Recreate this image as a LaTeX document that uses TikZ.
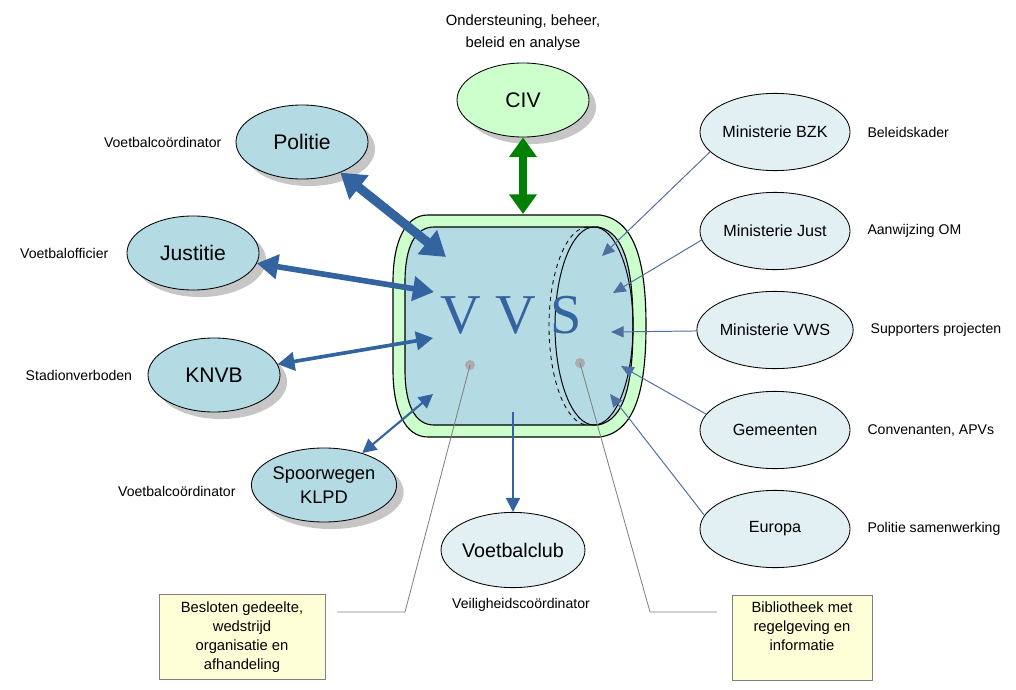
\documentclass[tikz,border=0pt]{standalone}
\usepackage{fontspec}
\setmainfont{Liberation Sans}
\newfontfamily\vvsfont{Liberation Serif}
\usetikzlibrary{arrows.meta, shapes.geometric, shadows, positioning}

\definecolor{bolblauw}{RGB}{180,218,228}
\definecolor{bolgroen}{RGB}{204,255,204}
\definecolor{bolbleek}{RGB}{226,240,244}
\definecolor{pijlblauw}{RGB}{52,100,160}
\definecolor{lijnblauw}{RGB}{80,110,160}
\definecolor{pijlgroen}{RGB}{0,128,0}
\definecolor{briefgeel}{RGB}{255,255,215}

\begin{document}
\begin{tikzpicture}[x=0.025cm, y=-0.025cm,
    bol/.style={ellipse, draw, line width=0.6pt, fill=bolblauw, inner sep=0pt,
        minimum width=3.3cm, minimum height=1.85cm,
        drop shadow={shadow xshift=5pt, shadow yshift=-5pt, fill=gray!45, opacity=1},
        font=\fontsize{15}{17}\selectfont},
    bleekbol/.style={ellipse, draw, line width=0.6pt, fill=bolbleek, inner sep=0pt,
        minimum width=3.75cm, minimum height=1.93cm, font=\fontsize{11.5}{14}\selectfont},
    lbl/.style={font=\fontsize{10}{12}\selectfont, inner sep=0pt},
    brief/.style={draw=gray, fill=briefgeel, minimum width=4.15cm, minimum height=2.12cm,
        align=center, font=\fontsize{10.5}{13.5}\selectfont},
    dubbel/.style n args={3}{draw=pijlblauw, line width=#1,
        >={Triangle[length=#2, width=#3]}, <->},
    inpijl/.style={draw=lijnblauw, line width=0.7pt, -{Triangle[length=9pt, width=8pt]}},
    callout/.style={draw=gray, line width=0.6pt},
    dot/.style={circle, fill=gray!65, minimum size=0.25cm, inner sep=0pt}]

\useasboundingbox (0,0) rectangle (1016,689);

% centrale VVS
\draw[line width=0.8pt, fill=bolgroen] (428,215) -- (600,215)
    .. controls (635,220) and (646,262) .. (646,326)
    .. controls (646,390) and (635,432) .. (600,437) -- (428,437)
    .. controls (405,437) and (393,410) .. (393,370) -- (393,282)
    .. controls (393,242) and (405,215) .. (428,215) -- cycle;
\draw[line width=0.8pt, fill=bolblauw] (434,227) -- (598,227)
    .. controls (625,232) and (633,270) .. (633,326)
    .. controls (633,382) and (625,420) .. (598,425) -- (434,425)
    .. controls (415,425) and (405,405) .. (405,370) -- (405,282)
    .. controls (405,247) and (415,227) .. (434,227) -- cycle;
\draw[line width=0.7pt] (594,326) ellipse [x radius=39, y radius=99];
\draw[line width=0.6pt, dashed] (588,227) arc [start angle=270, end angle=90, x radius=39, y radius=99];
\node[anchor=base, text=pijlblauw, inner sep=0pt, font=\vvsfont\fontsize{40}{40}\selectfont] (vvs) at (511,333) {V V S};

\coordinate (vPolitie) at (446,257);
\coordinate (vJustitie) at (434,292);
\coordinate (vKnvb) at (433,338);
\coordinate (vSpoor) at (433,394);
\coordinate (vTop) at (523,214);
\coordinate (vOnder) at (513,412);
\coordinate (vBzk) at (602,256);
\coordinate (vJust) at (613,293);
\coordinate (vVws) at (611,332);
\coordinate (vGem) at (621,366);
\coordinate (vEur) at (610,394);

% partners
\node[bol, fill=bolgroen] (civ) at (523,100) {CIV};
\node[bol] (politie) at (302,142) {Politie};
\node[bol] (justitie) at (193,253) {Justitie};
\node[bol] (knvb) at (214,375) {KNVB};
\node[bol, align=center, font=\fontsize{13}{17}\selectfont] (spoor) at (324,485) {Spoorwegen\\KLPD};
\node[bleekbol, minimum width=3.3cm, minimum height=1.88cm, font=\fontsize{14}{17}\selectfont] (club) at (513,550) {Voetbalclub};

\node[bleekbol] (bzk) at (775,132) {Ministerie BZK};
\node[bleekbol] (just) at (775,231) {Ministerie Just};
\node[bleekbol] (vws) at (775,330) {Ministerie VWS};
\node[bleekbol] (gem) at (775,430) {Gemeenten};
\node[bleekbol] (eur) at (775,529) {Europa};

% toelichting
\node[lbl, align=center, font=\fontsize{10.5}{15.5}\selectfont, above=0.3cm of civ] (civtekst) {Ondersteuning, beheer,\\beleid en analyse};
\node[lbl, left=0.35cm of politie] (politietekst) {Voetbalcoördinator};
\node[lbl, left=0.45cm of justitie] (justitietekst) {Voetbalofficier};
\node[lbl, left=0.38cm of knvb] (knvbtekst) {Stadionverboden};
\node[lbl, left=0.38cm of spoor, yshift=-0.15cm] (spoortekst) {Voetbalcoördinator};
\node[lbl, below=0.25cm of club, xshift=0.2cm] (clubtekst) {Veiligheidscoördinator};
\node[lbl, right=0.42cm of bzk] (bzktekst) {Beleidskader};
\node[lbl, right=0.42cm of just] (justtekst) {Aanwijzing OM};
\node[lbl, right=0.42cm of vws] (vwstekst) {Supporters projecten};
\node[lbl, right=0.42cm of gem] (gemtekst) {Convenanten, APVs};
\node[lbl, right=0.42cm of eur] (eurtekst) {Politie samenwerking};

% pijlen
\draw[pijlgroen, line width=6pt, >={Triangle[length=14pt, width=19pt]}, <->] (civ) -- (vTop);
\draw[dubbel={6.5pt}{17pt}{21pt}] (politie) -- (vPolitie);
\draw[dubbel={4pt}{15pt}{17pt}] (justitie) -- (vJustitie);
\draw[dubbel={2.6pt}{12pt}{13pt}] (knvb) -- (vKnvb);
\draw[dubbel={1.5pt}{10pt}{10pt}] (spoor) -- (vSpoor);
\draw[draw=pijlblauw, line width=1.3pt, -{Triangle[length=10pt, width=10pt]}] (vOnder) -- (club);

\draw[inpijl] (bzk.197) -- (vBzk);
\draw[inpijl] (just.187) -- (vJust);
\draw[inpijl] (vws) -- (vVws);
\draw[inpijl] (gem.167) -- (vGem);
\draw[inpijl] (eur.169) -- (vEur);

% notities
\node[brief] (briefL) at (242,637) {Besloten gedeelte,\\wedstrijd\\organisatie en\\afhandeling};
\node[brief, minimum width=3.5cm] (briefR) at (802,638) {Bibliotheek met\\regelgeving en\\informatie\\ \strut};
\node[dot] (dotL) at (470,365) {};
\node[dot] (dotR) at (580,363) {};
\coordinate (knikL) at (405,612);
\coordinate (knikR) at (650,612);
\draw[callout, shorten >=0.3cm] (dotL.center) -- (knikL) -- (knikL -| briefL.east);
\draw[callout, shorten >=0.37cm] (dotR.center) -- (knikR) -- (knikR -| briefR.west);
\end{tikzpicture}
\end{document}
